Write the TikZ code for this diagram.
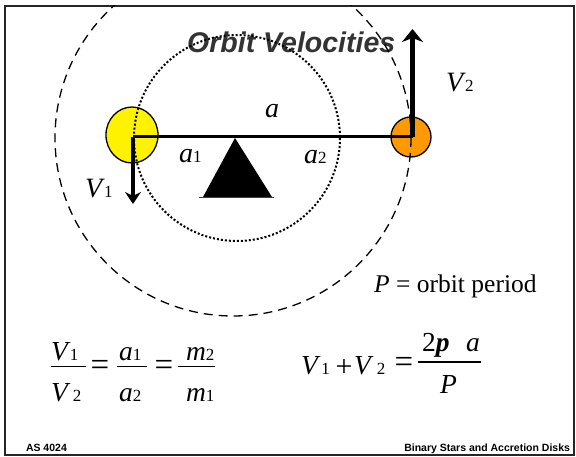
\documentclass[tikz,border=0pt]{standalone}
\usepackage{fontspec}
\setmainfont{Liberation Serif}
\newfontfamily\arialf{Liberation Sans}
\usetikzlibrary{arrows.meta,shapes.geometric}
\newcommand{\sbs}[1]{{\upshape\fontsize{17}{17}\selectfont #1}}
\begin{document}
\begin{tikzpicture}[x=1pt,y=-1pt,
  lab/.style={inner sep=0, outer sep=0, anchor=base west, font=\fontsize{28}{28}\selectfont\itshape},
  eqt/.style={inner sep=0, outer sep=0, anchor=base west, font=\fontsize{27.5}{27.5}\selectfont\itshape},
  sym/.style={inner sep=0, outer sep=0, anchor=center, font=\fontsize{33}{33}\selectfont},
  fbar/.style={line width=1.3pt},
  foot/.style={inner sep=0, outer sep=0, font=\arialf\bfseries\fontsize{10.5}{10.5}\selectfont},
  orbitdash/.style={line width=1.3pt, dash pattern=on 9pt off 6pt},
  orbitdot/.style={line width=2pt, dash pattern=on 2pt off 2pt},
  bigarrow/.style={line width=4.5pt, -{Stealth[length=13pt,width=21pt,inset=4pt]}},
  starnode/.style={draw=black, line width=1.3pt, inner sep=0, outer sep=0}
]
\useasboundingbox (0,0) rectangle (576,457);
\fill[white] (0,0) rectangle (576,457);

% frame
\draw[line width=1.6pt, black!85] (5,6) rectangle (574,455);

% title
\node[inner sep=0, anchor=base west, text=black!80,
      font=\arialf\bfseries\itshape\fontsize{28.5}{28.5}\selectfont] (title) at (187,53) {Orbit Velocities};

% stars
\node[starnode, ellipse, fill=yellow, minimum width=52pt, minimum height=56pt] (s1) at (132,135) {};
\node[starnode, circle, fill={rgb,255:red,255;green,153;blue,0}, minimum size=40pt] (s2) at (411,137) {};

% orbits
\begin{scope}
  \clip (5,6) rectangle (574,455);
  \draw[orbitdash] (233,138) circle (178);
\end{scope}
\draw[orbitdot] (237,138) circle (103);

% fulcrum
\coordinate (apex) at (235,138);
\coordinate (bl) at (203,197);
\coordinate (br) at (272,197);
\fill[black] (apex) -- (bl) -- (br) -- cycle;
\coordinate (bll) at (199,197.5);
\coordinate (brr) at (274,197.5);
\draw[line width=1.5pt, black!75] (bll) -- (brr);

% separation line and velocity arrows
\coordinate (c1) at (133,136.7);
\coordinate (c2) at (412.5,136.7);
\coordinate (v1tip) at (133,204);
\coordinate (v2tip) at (412.5,29);
\draw[line width=3.5pt] (c1) -- (c2);
\draw[line width=3.5pt, -{Stealth[length=12pt,width=16pt,inset=4pt]}] (c1) -- (v1tip);
\draw[bigarrow] (c2) -- (v2tip);

% diagram labels
\node[lab] (la) at (265,118) {a};
\node[lab] (la1) at (179,163) {a\sbs{1}};
\node[lab] (la2) at (304,164) {a\sbs{2}};
\node[lab] (lv1) at (85,198) {V\hspace{2pt}\sbs{1}};
\node[lab] (lv2) at (446,92) {V\hspace{2pt}\sbs{2}};

% P = orbit period
\node[inner sep=0, anchor=base west, font=\fontsize{25.5}{25.5}\selectfont] (per) at (374,293) {\textit{P} = orbit period};

% equation 1
\node[eqt] (n1) at (51,360) {V\hspace{2pt}\sbs{1}};
\node[eqt] (d1) at (51,401.5) {V\hspace{5pt}\sbs{2}};
\coordinate (b1l) at (51,366.5); \coordinate (b1r) at (86,366.5);
\draw[fbar] (b1l) -- (b1r);
\node[sym] (eq1) at (100,367.5) {=};
\node[eqt] (n2) at (119,360) {a\sbs{1}};
\node[eqt] (d2) at (119,401.5) {a\sbs{2}};
\coordinate (b2l) at (117,366.5); \coordinate (b2r) at (147,366.5);
\draw[fbar] (b2l) -- (b2r);
\node[sym] (eq2) at (164,367.5) {=};
\node[eqt] (n3) at (186,360) {m\sbs{2}};
\node[eqt] (d3) at (186,401.5) {m\sbs{1}};
\coordinate (b3l) at (178,366.5); \coordinate (b3r) at (215,366.5);
\draw[fbar] (b3l) -- (b3r);

% equation 2
\node[eqt] (e1) at (301,374) {V\hspace{3.5pt}\sbs{1}};
\node[sym, font=\fontsize{30}{30}\selectfont] (plus) at (344,368) {+};
\node[eqt] (e2) at (354,374) {V\hspace{6pt}\sbs{2}};
\node[sym] (eq3) at (404,365) {=};
\node[eqt] (e3) at (422,352) {\upshape 2\textbf{\textit{p}}};
\node[eqt] (e4) at (466,352) {a};
\coordinate (b4l) at (418,362); \coordinate (b4r) at (481,362);
\draw[fbar] (b4l) -- (b4r);
\node[eqt] (e5) at (440,393) {P};

% footer
\node[foot, anchor=base west] (f1) at (26,451) {AS 4024};
\node[foot, anchor=base east] (f2) at (570,451) {Binary Stars and Accretion Disks};
\end{tikzpicture}
\end{document}
